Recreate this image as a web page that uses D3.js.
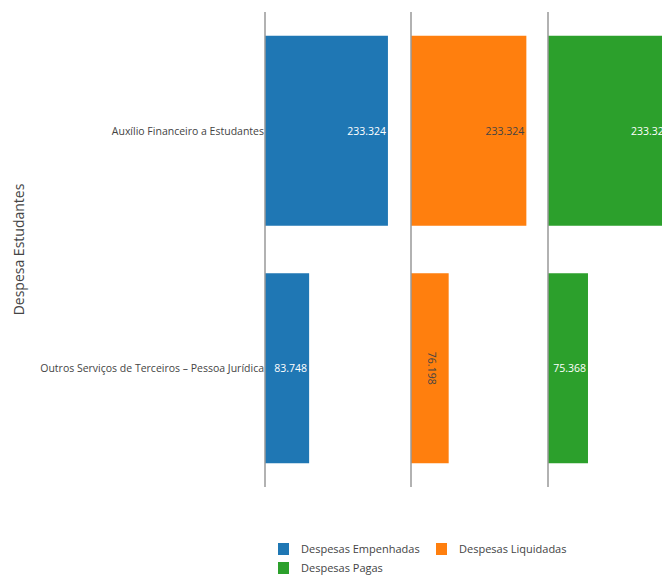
<!DOCTYPE html>
<html>
<head>
<meta charset="utf-8">
<script src="https://cdn.jsdelivr.net/npm/d3@7"></script>
<style>
  html, body { margin: 0; padding: 0; background: #fff; }
  svg { display: block; }
  .lbl { font-family: "Open Sans", sans-serif; }
  .reg { font-family: "Open Sans", sans-serif; }
</style>
</head>
<body>
<svg id="chart" width="662" height="576"></svg>
<script>
// Categories and the three expense series (values in R$ thousands)
const categories = ["Auxílio Financeiro a Estudantes", "Outros Serviços de Terceiros – Pessoa Jurídica"];
const seriesNames = ["Despesas Empenhadas", "Despesas Liquidadas", "Despesas Pagas"];
const empenhadas = [233.324, 83.748];
const liquidadas = [233.324, 76.198];
const pagas = [233.324, 75.368];
const seriesValues = [empenhadas, liquidadas, pagas];
const colors = ["#1f77b4", "#ff7f0e", "#2ca02c"];
const labelColors = ["#ffffff", "#444444", "#ffffff"];
const axisTitle = "Despesa Estudantes";

const svg = d3.select("#chart");

// Small multiples: one panel per series, sharing the category band scale
const panelLeft = [265, 411, 548];
const panelWidth = [146, 137, 147];
const plotTop = 12, plotBottom = 487;

const y = d3.scaleBand().domain(categories).range([plotTop, plotBottom]).paddingInner(0.2).paddingOuter(0.1);

const fmt = d3.format(".3f");

seriesValues.forEach((vals, i) => {
  const x = d3.scaleLinear()
    .domain([0, d3.max(vals) / 0.842])
    .range([panelLeft[i], panelLeft[i] + panelWidth[i]]);
  const g = svg.append("g");
  const rows = categories.map((c, j) => ({ c, v: vals[j] }));

  g.selectAll("rect").data(rows).join("rect")
    .attr("x", x(0))
    .attr("y", d => y(d.c))
    .attr("width", d => x(d.v) - x(0))
    .attr("height", y.bandwidth())
    .attr("fill", colors[i]);

  // value labels: horizontal at bar end, or rotated when the bar is too narrow
  rows.forEach(d => {
    const w = x(d.v) - x(0);
    const cy = y(d.c) + y.bandwidth() / 2;
    const t = g.append("text")
      .attr("class", "lbl")
      .attr("font-size", 10.5)
      .attr("fill", labelColors[i])
      .text(fmt(d.v));
    if (w < 39) {
      t.attr("text-anchor", "middle")
        .attr("transform", `translate(${x(0) + w / 2 - 2},${cy}) rotate(90)`);
    } else {
      t.attr("text-anchor", "end")
        .attr("x", x(d.v) - 2)
        .attr("y", cy + 4);
    }
  });

  // panel baseline axis
  g.append("line")
    .attr("x1", x(0)).attr("x2", x(0))
    .attr("y1", plotTop).attr("y2", plotBottom)
    .attr("stroke", "#999").attr("stroke-width", 1.5);
});

// Category labels to the left of the first panel
svg.append("g").selectAll("text").data(categories).join("text")
  .attr("class", "lbl")
  .attr("font-size", 10.5)
  .attr("fill", "#444")
  .attr("text-anchor", "end")
  .attr("x", panelLeft[0] - 1)
  .attr("y", d => y(d) + y.bandwidth() / 2 + 4)
  .text(d => d);

// Axis title
svg.append("text")
  .attr("class", "reg")
  .attr("font-size", 14)
  .attr("fill", "#444")
  .attr("text-anchor", "middle")
  .attr("transform", `translate(24,${(plotTop + plotBottom) / 2}) rotate(-90)`)
  .text(axisTitle);

// Legend
const legendPos = [[278, 549], [436, 549], [278, 568]];
const legend = svg.append("g").selectAll("g").data(seriesNames).join("g")
  .attr("transform", (d, i) => `translate(${legendPos[i][0]},${legendPos[i][1]})`);
legend.append("rect")
  .attr("x", 0).attr("y", -6).attr("width", 11).attr("height", 12)
  .attr("fill", (d, i) => colors[i]);
legend.append("text")
  .attr("class", "reg")
  .attr("font-size", 11)
  .attr("fill", "#444")
  .attr("x", 23).attr("y", 4)
  .text(d => d);
</script>
</body>
</html>
